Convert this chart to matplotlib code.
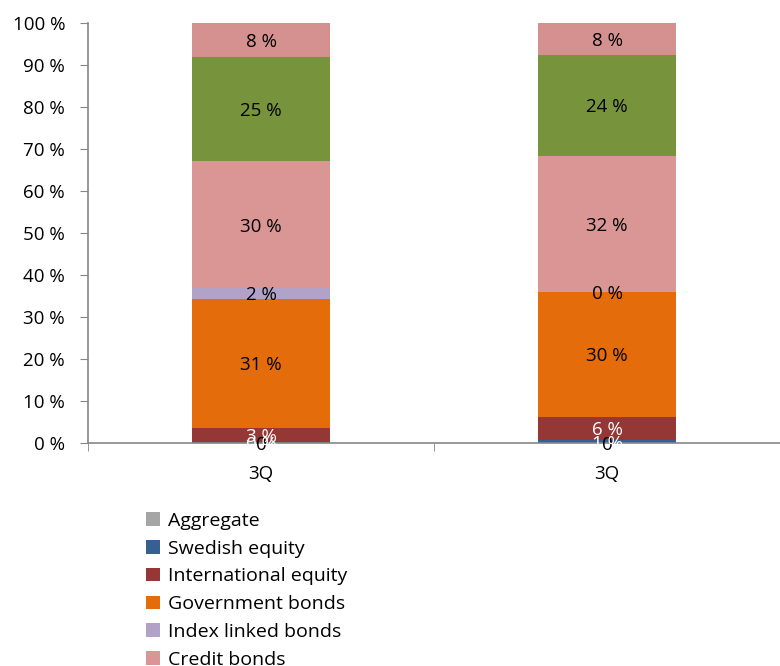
import matplotlib
matplotlib.use("Agg")
import matplotlib.pyplot as plt
import numpy as np

categories = ["3Q", "3Q"]
series_names = ["Aggregate", "Swedish equity", "International equity", "Government bonds",
                "Index linked bonds", "Credit bonds", "Alternative investments", "Real estate"]
series_values = [
    [0.0, 0.0],    # Aggregate
    [0.2, 0.7],    # Swedish equity
    [3.4, 5.6],    # International equity
    [30.8, 29.6],  # Government bonds
    [2.4, 0.2],    # Index linked bonds
    [30.4, 32.3],  # Credit bonds
    [24.7, 24.0],  # Alternative investments
    [8.1, 7.6],    # Real estate
]
colors = ["#A5A5A5", "#376092", "#953735", "#E46C0A", "#B3A2C7", "#D99694", "#77933C", "#D4918F"]
label_colors = ["black", "white", "white", "black", "black", "black", "black", "black"]
label_fmt = ["{:.0f}", "{:.0f} %", "{:.0f} %", "{:.0f} %", "{:.0f} %", "{:.0f} %", "{:.0f} %", "{:.0f} %"]
yticks = [0, 10, 20, 30, 40, 50, 60, 70, 80, 90, 100]

TICK_FS = 13.5
LBL_FS = 13.5
LEG_FS = 14
plt.rcParams['font.family'] = ['Open Sans', 'DejaVu Sans']
fig = plt.figure(figsize=(7.8, 6.66), dpi=100)
ax = fig.add_axes([88/780, 1-443/666, 1-88/780, (443-23)/666])

x = np.arange(len(categories))
bottom = np.zeros(len(categories))
for name, vals, c, lc, fmt in zip(series_names, series_values, colors, label_colors, label_fmt):
    vals = np.array(vals)
    ax.bar(x, vals, width=0.40, bottom=bottom, color=c, label=name, zorder=2)
    for xi, v, b in zip(x, vals, bottom):
        ax.text(xi, b + v/2, fmt.format(round(v)), ha='center', va='center_baseline',
                color=lc, fontsize=LBL_FS, zorder=4)
    bottom = bottom + vals

ax.set_xlim(-0.5, 1.5)
ax.set_ylim(0, 100)
ax.set_yticks(yticks)
ax.set_yticklabels([f"{t} %" for t in yticks])
ax.set_xticks(x)
ax.set_xticklabels(categories)
ax.set_xticks([-0.5, 0.5, 1.5], minor=True)
ax.tick_params(axis='x', which='major', length=0, pad=16, labelsize=TICK_FS)
ax.tick_params(axis='x', which='minor', length=6, color='#868686', direction='out')
ax.tick_params(axis='y', length=6, color='#868686', pad=10.5, labelsize=TICK_FS)
for s in ['top', 'right']:
    ax.spines[s].set_visible(False)
for s in ['left', 'bottom']:
    ax.spines[s].set_color('#868686')
    ax.spines[s].set_linewidth(1.2)
ax.spines['bottom'].set_zorder(3)

handles, labels = ax.get_legend_handles_labels()
fig.legend(handles, labels, loc='upper left', bbox_to_anchor=(146/780, 1-512/666),
           frameon=False, fontsize=LEG_FS, handlelength=0.7, handleheight=0.7,
           handletextpad=0.45, labelspacing=0.5, borderpad=0, borderaxespad=0)

fig.savefig("out.png", dpi=100)
